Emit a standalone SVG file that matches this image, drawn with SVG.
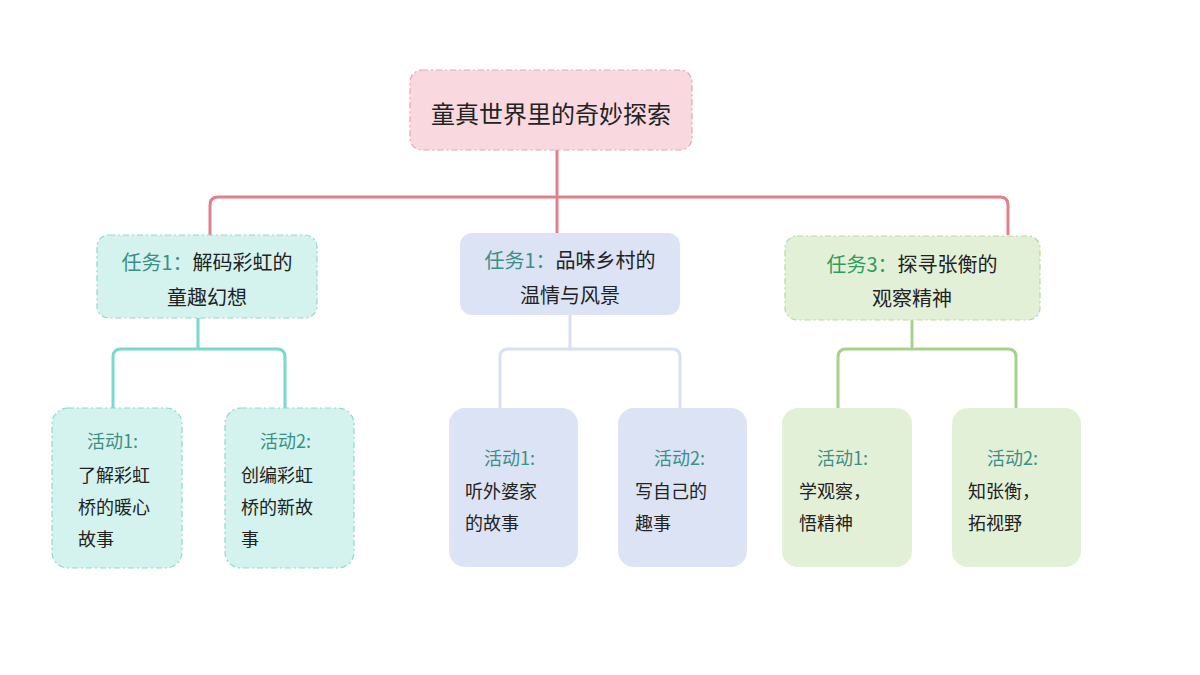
<svg xmlns="http://www.w3.org/2000/svg" width="1200" height="675" viewBox="0 0 1200 675">
<style>
text{font-family:"Noto Sans CJK SC","Noto Sans",sans-serif;fill:#222}
.t{font-size:20px}
.a{font-size:18px}
.lab{fill:#3b8f87}
.g{fill:#2e9e5c}
.c{fill:none;stroke-width:3;stroke-linejoin:round}
.dash{stroke-dasharray:6 3 2 3;stroke-width:1.2}
</style>
<rect width="1200" height="675" fill="#fff"/>
<g id="connectors">
<path class="c" stroke="#e0808c" d="M557 150V197M210 235V205Q210 197 218 197H1000Q1008 197 1008 205V235M557 197V235"/>
<path class="c" stroke="#7ad8cc" d="M198 318V349M113 408V357Q113 349 121 349H277Q285 349 285 357V408"/>
<path class="c" stroke="#d8e0f2" d="M570 315V349M500 408V357Q500 349 508 349H672Q680 349 680 357V408"/>
<path class="c" stroke="#a6d38a" d="M912 320V349M838 408V357Q838 349 846 349H1008Q1016 349 1016 357V408"/>
</g>
<g id="root"><rect x="410" y="70" width="282" height="80" rx="12" fill="#f9d9df" stroke="#e8a4b0" class="dash"/><text x="551" y="123" font-size="24" text-anchor="middle">童真世界里的奇妙探索</text></g>
<g id="task1"><rect x="97" y="235" width="220" height="83" rx="12" fill="#d4f3ef" stroke="#8fd8cd" class="dash"/><text class="t" x="207" y="270" text-anchor="middle"><tspan class="lab">任务1：</tspan>解码彩虹的</text><text class="t" x="207" y="305" text-anchor="middle">童趣幻想</text></g>
<g id="task2"><rect x="460" y="233" width="220" height="82" rx="12" fill="#dbe3f5"/><text class="t" x="570" y="268" text-anchor="middle"><tspan class="lab">任务1：</tspan>品味乡村的</text><text class="t" x="570" y="303" text-anchor="middle">温情与风景</text></g>
<g id="task3"><rect x="785" y="236" width="255" height="84" rx="12" fill="#e3f0d8" stroke="#b8d8a0" class="dash"/><text class="t" x="912" y="272" text-anchor="middle"><tspan class="g">任务3：</tspan>探寻张衡的</text><text class="t" x="912" y="306" text-anchor="middle">观察精神</text></g>
<g id="act1"><rect x="52" y="408" width="130" height="160" rx="16" fill="#d4f3ef" stroke="#8fd8cd" class="dash"/><text class="a lab" x="87" y="448" font-size="17">活动1:</text><text class="a" x="78" y="482">了解彩虹</text><text class="a" x="78" y="514">桥的暖心</text><text class="a" x="78" y="546">故事</text></g>
<g id="act2"><rect x="225" y="408" width="129" height="160" rx="16" fill="#d4f3ef" stroke="#8fd8cd" class="dash"/><text class="a lab" x="260" y="448" font-size="17">活动2:</text><text class="a" x="241" y="482">创编彩虹</text><text class="a" x="241" y="514">桥的新故</text><text class="a" x="241" y="546">事</text></g>
<g id="act3"><rect x="449" y="408" width="129" height="159" rx="16" fill="#dbe3f5"/><text class="a lab" x="484" y="465" font-size="17">活动1:</text><text class="a" x="465" y="498">听外婆家</text><text class="a" x="465" y="530">的故事</text></g>
<g id="act4"><rect x="618" y="408" width="129" height="159" rx="16" fill="#dbe3f5"/><text class="a lab" x="654" y="465" font-size="17">活动2:</text><text class="a" x="635" y="498">写自己的</text><text class="a" x="635" y="530">趣事</text></g>
<g id="act5"><rect x="782" y="408" width="130" height="159" rx="16" fill="#e3f0d8"/><text class="a lab" x="817" y="465" font-size="17">活动1:</text><text class="a" x="799" y="498">学观察，</text><text class="a" x="799" y="530">悟精神</text></g>
<g id="act6"><rect x="952" y="408" width="129" height="159" rx="16" fill="#e3f0d8"/><text class="a lab" x="987" y="465" font-size="17">活动2:</text><text class="a" x="968" y="498">知张衡，</text><text class="a" x="968" y="530">拓视野</text></g>
</svg>
